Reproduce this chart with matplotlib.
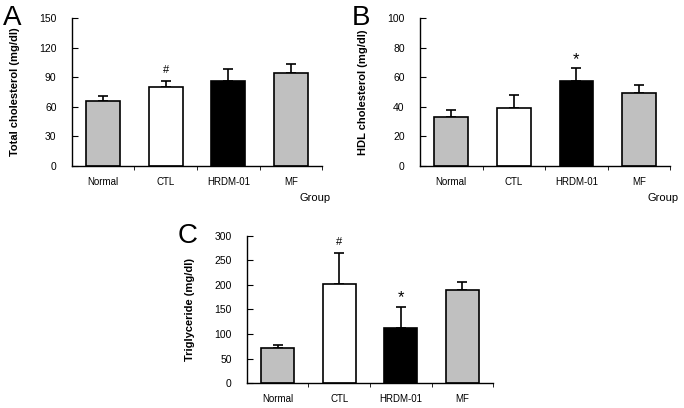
import numpy as np
import matplotlib.pyplot as plt

plt.rcParams['font.family'] = ['Liberation Sans', 'DejaVu Sans']

groups = ["Normal", "CTL", "HRDM-01", "MF"]
bar_colors = ["#c0c0c0", "white", "black", "#c0c0c0"]

total_chol = [66, 80, 86, 94]
total_chol_err = [5, 6, 12, 9]
hdl_chol = [33, 39.5, 57.5, 49.5]
hdl_chol_err = [5, 8.5, 8.5, 5.5]
trig = [72, 202, 112, 190]
trig_err = [5, 63, 43, 15]

fig = plt.figure(figsize=(6.84, 4.08), dpi=100)

def panel(rect, vals, errs, ymax, ystep, ylabel, letter, marks, group_label=True):
    ax = fig.add_axes(rect)
    x = np.arange(len(groups))
    ax.bar(x, vals, width=0.54, color=bar_colors, edgecolor="black", linewidth=1.2, zorder=2)
    ax.errorbar(x, vals, yerr=[np.zeros(len(vals)), errs], fmt="none",
                ecolor="black", elinewidth=1.2, capsize=3.5, capthick=1.2, zorder=1)
    for i, m in marks.items():
        if m == "*":
            ax.text(i, vals[i] + errs[i] + ymax * 0.01, m, ha="center", va="bottom", fontsize=12)
        else:
            ax.text(i, vals[i] + errs[i] + ymax * 0.04, m, ha="center", va="bottom", fontsize=8)
    ax.set_xlim(-0.5, 3.5)
    ax.set_ylim(0, ymax)
    ax.set_yticks(np.arange(0, ymax + 1, ystep))
    ax.set_xticks(x)
    ax.set_xticklabels(groups, fontsize=7)
    ax.set_xticks(np.arange(0.5, 4, 1), minor=True)
    ax.tick_params(axis="x", which="major", length=0, pad=8)
    ax.tick_params(axis="x", which="minor", length=3, direction="out")
    ax.tick_params(axis="y", direction="in", length=4, labelsize=7.5, pad=11)
    for s in ["top", "right"]:
        ax.spines[s].set_visible(False)
    ax.spines["left"].set_linewidth(1.0)
    ax.spines["bottom"].set_linewidth(1.0)
    ax.set_ylabel(ylabel, fontsize=8, fontweight="bold", labelpad=14)
    ax.text(-0.2, 1.0, letter, transform=ax.transAxes, fontsize=20, ha="right", va="center")
    if group_label:
        ax.text(0.97, -0.18, "Group", transform=ax.transAxes, fontsize=8, ha="center", va="top")
    return ax

panel([0.105, 0.593, 0.366, 0.363], total_chol, total_chol_err, 150, 30,
      "Total cholesterol (mg/dl)", "A", {1: "#"})
panel([0.614, 0.593, 0.366, 0.363], hdl_chol, hdl_chol_err, 100, 20,
      "HDL cholesterol (mg/dl)", "B", {2: "*"})
panel([0.361, 0.061, 0.360, 0.361], trig, trig_err, 300, 50,
      "Triglyceride (mg/dl)", "C", {1: "#", 2: "*"}, group_label=False)

fig.savefig("out.png", dpi=100)
